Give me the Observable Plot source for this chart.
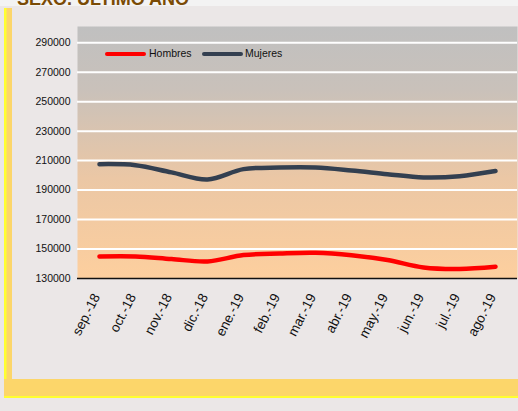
<!DOCTYPE html>
<html><head><meta charset="utf-8">
<script src="https://cdn.jsdelivr.net/npm/d3@7"></script>
<script src="https://cdn.jsdelivr.net/npm/@observablehq/plot@0.6"></script>
<style>
html,body{margin:0;padding:0;}
body{width:518px;height:411px;background:#ebe7e7;position:relative;overflow:hidden;font-family:"Liberation Sans",Arial,sans-serif;}
#topstrip{position:absolute;left:0;top:0;width:518px;height:6px;background:#f3f3f3;}
#title{position:absolute;left:17px;top:-10px;font-size:18px;line-height:18px;font-weight:bold;color:#7a4b05;white-space:nowrap;}
#leftbar{position:absolute;left:4px;top:8px;width:8px;height:390px;background:linear-gradient(to right,#ffff30 0,#ffff30 2px,#fcd66a 3px,#fcd66a 100%);}
#bottombar{position:absolute;left:4px;top:379px;width:514px;height:17px;background:#fcd66a;border-bottom:2px solid #ffff30;}
#chart{position:absolute;left:0;top:0;}
#legend{position:absolute;left:0;top:0;font-size:10.5px;color:#111;}
.li{position:absolute;height:4px;border-radius:2px;}
.lt{position:absolute;white-space:nowrap;}
</style></head>
<body>
<div id="topstrip"></div>
<div id="title">SEXO. ÚLTIMO AÑO</div>
<div id="leftbar"></div>
<div id="bottombar"></div>
<div id="chart"></div>
<div id="legend">
  <div class="li" style="left:105px;top:52px;width:41px;background:#ff0000"></div>
  <div class="lt" style="left:149px;top:47px;">Hombres</div>
  <div class="li" style="left:202px;top:52px;width:41px;background:#333f50"></div>
  <div class="lt" style="left:245px;top:47px;">Mujeres</div>
</div>
<script>
const months = ["sep.-18","oct.-18","nov.-18","dic.-18","ene.-19","feb.-19","mar.-19","abr.-19","may.-19","jun.-19","jul.-19","ago.-19"];
const hombres = [145000,145000,143200,141600,145900,147000,147500,145800,142500,137500,136500,138000];
const mujeres = [207600,206900,202000,197200,204200,205300,205300,203300,200800,198600,199400,202900];
const yTicks = [130000,150000,170000,190000,210000,230000,250000,270000,290000];
const seriesNames = ["Hombres","Mujeres"];
const seriesColors = ["#ff0000","#333f50"];

const data = [];
months.forEach((m,i)=>{
  data.push({month:m, value:hombres[i], serie:seriesNames[0]});
  data.push({month:m, value:mujeres[i], serie:seriesNames[1]});
});

const defs = () => {
  const d = d3.create("svg:defs");
  const g = d.append("linearGradient").attr("id","bgGrad").attr("x1",0).attr("y1",0).attr("x2",0).attr("y2",1);
  g.append("stop").attr("offset","0%").attr("stop-color","#c0c0c0");
  g.append("stop").attr("offset","25%").attr("stop-color","#c9c1ba");
  g.append("stop").attr("offset","60%").attr("stop-color","#ebc7a5");
  g.append("stop").attr("offset","100%").attr("stop-color","#fdcf9e");
  return d.node();
};

const plot = Plot.plot({
  width: 518,
  height: 370,
  marginLeft: 77,
  marginRight: 1,
  marginTop: 26,
  marginBottom: 92,
  style: {background:"transparent", fontFamily:"Liberation Sans, Arial, sans-serif", color:"#111", overflow:"visible"},
  x: {type:"point", domain: months, padding: 0.5, label: null},
  y: {domain:[130000, 301000], label: null},
  marks: [
    defs,
    Plot.frame({fill:"url(#bgGrad)", stroke:"none"}),
    Plot.ruleY(yTicks.slice(1), {stroke:"#ffffff", strokeWidth:2}),
    Plot.ruleY([yTicks[0]], {stroke:"#111", strokeWidth:1.5}),
    Plot.axisY({ticks: yTicks, tickFormat: d=>String(d), tickSize:0, tickPadding:7, fontSize:10.5, label:null}),
    Plot.axisX({tickSize:0, tickRotate:-63, tickPadding:16, dx:-3, fontSize:13.5, label:null}),
    Plot.line(data, {x:"month", y:"value", z:"serie", stroke:"serie", strokeWidth:4.5, curve:"catmull-rom", strokeLinecap:"round"}),
  ],
  color: {domain: seriesNames, range: seriesColors}
});
document.getElementById("chart").appendChild(plot);
</script>
</body></html>
